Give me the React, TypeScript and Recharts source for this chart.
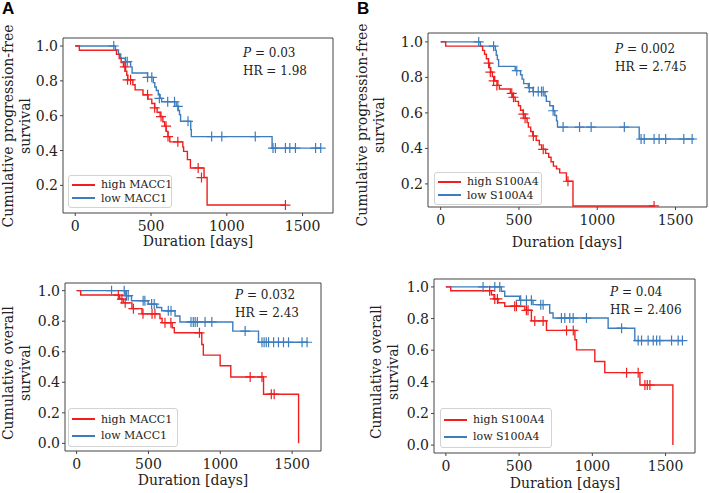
import React from "react";
import { ComposedChart, Line, Scatter, XAxis, YAxis, ReferenceArea } from "recharts";

type Pt = [number, number];

// shared axis setup (matplotlib auto margins)
const X_DOMAIN: [number, number] = [-81, 1701];
const X_TICKS = [0, 500, 1000, 1500];
const PFS_TICKS = [0.2, 0.4, 0.6, 0.8, 1.0];
const OS_TICKS = [0, 0.2, 0.4, 0.6, 0.8, 1.0];

// A: progression-free survival, MACC1
const pfsHighMacc: Pt[] = [[0, 1], [27, 0.976], [272, 0.952], [290, 0.928], [303, 0.905], [318, 0.88], [332, 0.856], [340, 0.832], [347, 0.806], [380, 0.778], [395, 0.748], [447, 0.72], [480, 0.695], [505, 0.67], [524, 0.645], [540, 0.62], [560, 0.595], [578, 0.565], [590, 0.54], [600, 0.51], [612, 0.48], [624, 0.45], [710, 0.42], [715, 0.395], [740, 0.348], [760, 0.3], [850, 0.245], [870, 0.087], [1387, 0.087]];
const pfsHighMaccCens: Pt[] = [[327, 0.88], [345, 0.806], [365, 0.806], [477, 0.72], [524, 0.645], [566, 0.595], [599, 0.54], [612, 0.48], [677, 0.45], [811, 0.3], [833, 0.245], [1387, 0.087]];
const pfsLowMacc: Pt[] = [[0, 1], [265, 0.977], [285, 0.954], [300, 0.93], [330, 0.91], [365, 0.88], [375, 0.845], [477, 0.82], [515, 0.79], [525, 0.765], [535, 0.745], [548, 0.72], [560, 0.7], [570, 0.68], [666, 0.654], [681, 0.63], [688, 0.606], [695, 0.568], [762, 0.52], [766, 0.48], [1299, 0.414], [1620, 0.414]];
const pfsLowMaccCens: Pt[] = [[254, 1], [332, 0.91], [343, 0.91], [477, 0.82], [505, 0.82], [555, 0.7], [610, 0.68], [655, 0.68], [677, 0.654], [744, 0.568], [900, 0.48], [967, 0.48], [1188, 0.48], [1305, 0.414], [1321, 0.414], [1387, 0.414], [1416, 0.414], [1453, 0.414], [1586, 0.414], [1620, 0.414]];

// B: progression-free survival, S100A4
const pfsHighS100: Pt[] = [[0, 1], [32, 0.976], [268, 0.952], [280, 0.93], [292, 0.905], [305, 0.88], [312, 0.855], [320, 0.83], [330, 0.805], [345, 0.78], [365, 0.755], [375, 0.735], [445, 0.71], [460, 0.688], [476, 0.665], [497, 0.64], [510, 0.615], [528, 0.593], [540, 0.57], [552, 0.545], [560, 0.52], [575, 0.495], [588, 0.47], [610, 0.445], [630, 0.42], [645, 0.395], [670, 0.372], [690, 0.35], [705, 0.325], [720, 0.3], [740, 0.285], [760, 0.262], [803, 0.215], [845, 0.076], [1363, 0.076]];
const pfsHighS100Cens: Pt[] = [[306, 0.88], [317, 0.83], [338, 0.78], [359, 0.755], [454, 0.71], [465, 0.688], [528, 0.593], [539, 0.57], [592, 0.47], [655, 0.395], [813, 0.215], [1363, 0.076]];
const pfsLowS100: Pt[] = [[0, 1], [254, 0.976], [349, 0.952], [355, 0.925], [362, 0.9], [370, 0.862], [476, 0.838], [510, 0.815], [520, 0.79], [530, 0.765], [560, 0.742], [590, 0.72], [666, 0.695], [675, 0.665], [697, 0.64], [720, 0.612], [729, 0.585], [740, 0.555], [746, 0.52], [1268, 0.453], [1620, 0.453]];
const pfsLowS100Cens: Pt[] = [[243, 1], [338, 0.976], [486, 0.838], [566, 0.742], [592, 0.72], [623, 0.72], [644, 0.72], [655, 0.72], [718, 0.612], [782, 0.52], [887, 0.52], [961, 0.52], [1173, 0.52], [1280, 0.453], [1300, 0.453], [1363, 0.453], [1395, 0.453], [1437, 0.453], [1553, 0.453], [1606, 0.453]];

// C: overall survival, MACC1
const osHighMacc: Pt[] = [[0, 1], [28, 0.971], [300, 0.945], [325, 0.92], [385, 0.882], [455, 0.848], [580, 0.818], [595, 0.79], [665, 0.757], [680, 0.724], [871, 0.647], [882, 0.578], [999, 0.508], [1073, 0.435], [1301, 0.322], [1545, 0]];
const osHighMaccCens: Pt[] = [[290, 0.971], [315, 0.945], [338, 0.92], [395, 0.882], [462, 0.848], [525, 0.848], [545, 0.848], [615, 0.79], [656, 0.79], [855, 0.724], [1208, 0.435], [1290, 0.435], [1355, 0.322], [1375, 0.322]];
const osLowMacc: Pt[] = [[0, 1], [338, 0.967], [382, 0.934], [498, 0.912], [557, 0.89], [592, 0.868], [685, 0.834], [719, 0.795], [1087, 0.735], [1266, 0.662], [1610, 0.662]];
const osLowMaccCens: Pt[] = [[243, 1], [331, 1], [347, 0.967], [359, 0.967], [463, 0.934], [475, 0.934], [522, 0.912], [540, 0.912], [638, 0.868], [657, 0.868], [796, 0.795], [812, 0.795], [825, 0.795], [840, 0.795], [894, 0.795], [941, 0.795], [1173, 0.735], [1290, 0.662], [1305, 0.662], [1320, 0.662], [1336, 0.662], [1371, 0.662], [1405, 0.662], [1440, 0.662], [1475, 0.662], [1569, 0.662], [1604, 0.662]];

// D: overall survival, S100A4
const osHighS100: Pt[] = [[0, 1], [33, 0.976], [311, 0.95], [329, 0.924], [356, 0.9], [402, 0.878], [539, 0.852], [584, 0.785], [687, 0.725], [881, 0.666], [892, 0.602], [1017, 0.528], [1085, 0.458], [1325, 0.38], [1550, 0]];
const osHighS100Cens: Pt[] = [[299, 0.976], [334, 0.924], [352, 0.924], [470, 0.878], [482, 0.878], [550, 0.852], [561, 0.852], [607, 0.785], [664, 0.785], [824, 0.725], [870, 0.725], [1234, 0.458], [1313, 0.458], [1359, 0.38], [1375, 0.38], [1393, 0.38]];
const osLowS100: Pt[] = [[0, 1], [379, 0.973], [402, 0.941], [504, 0.915], [595, 0.888], [709, 0.835], [732, 0.803], [1108, 0.739], [1290, 0.661], [1615, 0.661]];
const osLowS100Cens: Pt[] = [[254, 1], [334, 1], [368, 1], [511, 0.915], [550, 0.915], [584, 0.915], [648, 0.888], [664, 0.888], [789, 0.803], [812, 0.803], [846, 0.803], [869, 0.803], [960, 0.803], [1200, 0.739], [1313, 0.661], [1336, 0.661], [1381, 0.661], [1416, 0.661], [1439, 0.661], [1461, 0.661], [1541, 0.661], [1586, 0.661], [1615, 0.661]];

const RED = "#f01e1e";
const BLUE = "#3d7dbd";
const FRAME = "#444";
const SERIF = "'DejaVu Serif', serif";
const Y_AXIS_W = 44;
const X_AXIS_H = 30;

const rows = (pts: Pt[]) => pts.map(([t, s]) => ({ t, s }));

const cross = (color: string) => (props: any) => {
  const { cx, cy } = props;
  if (cx == null || cy == null) return <g />;
  return (
    <path
      d={`M${cx - 5},${cy}H${cx + 5}M${cx},${cy - 5}V${cy + 5}`}
      stroke={color}
      strokeWidth={1.2}
      fill="none"
    />
  );
};

interface Box { x: number; y: number; w: number; h: number }
interface Frame { l: number; t: number; r: number; b: number }

interface PanelProps {
  box: Box;
  frame: Frame;
  yDomain: [number, number];
  yTicks: number[];
  high: Pt[];
  highCens: Pt[];
  low: Pt[];
  lowCens: Pt[];
}

function KmPanel({ box, frame, yDomain, yTicks, high, highCens, low, lowCens }: PanelProps) {
  const margin = {
    left: frame.l - box.x - Y_AXIS_W,
    top: frame.t - box.y,
    right: box.x + box.w - frame.r,
    bottom: box.y + box.h - frame.b - X_AXIS_H,
  };
  const tick = { fill: "#222", fontSize: 14, fontFamily: SERIF };
  return (
    <div style={{ position: "absolute", left: box.x, top: box.y }}>
      <ComposedChart width={box.w} height={box.h} margin={margin}>
        <XAxis
          type="number"
          dataKey="t"
          domain={X_DOMAIN}
          allowDataOverflow
          ticks={X_TICKS}
          height={X_AXIS_H}
          tick={tick}
          tickSize={3}
          tickMargin={5}
          axisLine={false}
          tickLine={{ stroke: FRAME }}
        />
        <YAxis
          type="number"
          dataKey="s"
          domain={yDomain}
          allowDataOverflow
          ticks={yTicks}
          width={Y_AXIS_W}
          tick={tick}
          tickSize={3}
          tickMargin={2}
          axisLine={false}
          tickLine={{ stroke: FRAME }}
          tickFormatter={(v: number) => v.toFixed(1)}
        />
        <ReferenceArea
          x1={X_DOMAIN[0]}
          x2={X_DOMAIN[1]}
          y1={yDomain[0]}
          y2={yDomain[1]}
          fill="none"
          stroke={FRAME}
          strokeWidth={1}
        />
        <Line data={rows(low)} dataKey="s" type="stepAfter" stroke={BLUE} strokeWidth={1.4} dot={false} isAnimationActive={false} />
        <Line data={rows(high)} dataKey="s" type="stepAfter" stroke={RED} strokeWidth={1.4} dot={false} isAnimationActive={false} />
        <Scatter data={rows(lowCens)} dataKey="s" shape={cross(BLUE)} isAnimationActive={false} />
        <Scatter data={rows(highCens)} dataKey="s" shape={cross(RED)} isAnimationActive={false} />
      </ComposedChart>
    </div>
  );
}

function YLabel({ x, y, lines }: { x: number; y: number; lines: string[] }) {
  return (
    <div
      style={{
        position: "absolute",
        left: x,
        top: y,
        transform: "translate(-50%, -50%) rotate(-90deg)",
        whiteSpace: "nowrap",
        textAlign: "center",
        fontFamily: SERIF,
        fontSize: 14,
        lineHeight: "17px",
        color: "#222",
      }}
    >
      {lines.map((l) => (
        <div key={l}>{l}</div>
      ))}
    </div>
  );
}

function XLabel({ x, y }: { x: number; y: number }) {
  return (
    <div
      style={{
        position: "absolute",
        left: x,
        top: y,
        transform: "translate(-50%, -50%)",
        whiteSpace: "nowrap",
        fontFamily: SERIF,
        fontSize: 14,
        color: "#222",
      }}
    >
      Duration [days]
    </div>
  );
}

function Stats({ x, y, p, hr }: { x: number; y: number; p: string; hr: string }) {
  const line: React.CSSProperties = { height: 18, lineHeight: "18px" };
  return (
    <div style={{ position: "absolute", left: x, top: y - 9, fontFamily: SERIF, fontSize: 12, color: "#222", whiteSpace: "nowrap" }}>
      <div style={line}>
        <i>P</i> = {p}
      </div>
      <div style={line}>HR = {hr}</div>
    </div>
  );
}

function KmLegend({ x, y, w, h, labels }: { x: number; y: number; w: number; h: number; labels: [string, string] }) {
  const row: React.CSSProperties = { display: "flex", alignItems: "center", height: (h - 6) / 2 };
  const swatch = (c: string) => (
    <div style={{ flex: "0 0 23px", height: 2, background: c, marginRight: 6 }} />
  );
  return (
    <div
      style={{
        position: "absolute",
        left: x,
        top: y,
        width: w,
        height: h,
        boxSizing: "border-box",
        border: "1px solid #d3d3d3",
        borderRadius: 3,
        background: "rgba(255,255,255,0.85)",
        padding: "2px 3px",
        fontFamily: SERIF,
        fontSize: 11,
        color: "#222",
        whiteSpace: "nowrap",
      }}
    >
      <div style={row}>
        {swatch(RED)}
        <span>{labels[0]}</span>
      </div>
      <div style={row}>
        {swatch(BLUE)}
        <span>{labels[1]}</span>
      </div>
    </div>
  );
}

const letter: React.CSSProperties = {
  position: "absolute",
  fontFamily: "'Liberation Sans', Arial, sans-serif",
  fontWeight: "bold",
  fontSize: 17,
  lineHeight: "17px",
  color: "#000",
};

export default function App() {
  return (
    <div style={{ position: "absolute", left: 0, top: 0, width: 709, height: 493, background: "#fff", overflow: "hidden" }}>
      <div style={{ ...letter, left: 2, top: 0 }}>A</div>
      <div style={{ ...letter, left: 357, top: 0 }}>B</div>

      <KmPanel
        box={{ x: 0, y: 0, w: 354, h: 250 }}
        frame={{ l: 63, t: 38, r: 333, b: 213 }}
        yDomain={[0.0415, 1.046]}
        yTicks={PFS_TICKS}
        high={pfsHighMacc}
        highCens={pfsHighMaccCens}
        low={pfsLowMacc}
        lowCens={pfsLowMaccCens}
      />
      <YLabel x={17} y={126} lines={["Cumulative progression-free", "survival"]} />
      <XLabel x={198} y={241} />
      <Stats x={243} y={53} p="0.03" hr="1.98" />
      <KmLegend x={68} y={175} w={104} h={33} labels={["high MACC1", "low MACC1"]} />

      <KmPanel
        box={{ x: 354, y: 0, w: 355, h: 250 }}
        frame={{ l: 428, t: 33, r: 707, b: 207 }}
        yDomain={[0.07, 1.05]}
        yTicks={PFS_TICKS}
        high={pfsHighS100}
        highCens={pfsHighS100Cens}
        low={pfsLowS100}
        lowCens={pfsLowS100Cens}
      />
      <YLabel x={371} y={125} lines={["Cumulative progression-free", "survival"]} />
      <XLabel x={567} y={242} />
      <Stats x={615} y={49} p="0.002" hr="2.745" />
      <KmLegend x={434} y={172} w={108} h={33} labels={["high S100A4", "low S100A4"]} />

      <KmPanel
        box={{ x: 0, y: 250, w: 354, h: 243 }}
        frame={{ l: 65, t: 283, r: 321, b: 451 }}
        yDomain={[-0.05, 1.05]}
        yTicks={OS_TICKS}
        high={osHighMacc}
        highCens={osHighMaccCens}
        low={osLowMacc}
        lowCens={osLowMaccCens}
      />
      <YLabel x={17} y={373} lines={["Cumulative overall", "survival"]} />
      <XLabel x={193} y={480} />
      <Stats x={235} y={295} p="0.032" hr="2.43" />
      <KmLegend x={68} y={408} w={110} h={39} labels={["high MACC1", "low MACC1"]} />

      <KmPanel
        box={{ x: 354, y: 250, w: 355, h: 243 }}
        frame={{ l: 434, t: 279, r: 695, b: 453 }}
        yDomain={[-0.05, 1.05]}
        yTicks={OS_TICKS}
        high={osHighS100}
        highCens={osHighS100Cens}
        low={osLowS100}
        lowCens={osLowS100Cens}
      />
      <YLabel x={385} y={372} lines={["Cumulative overall", "survival"]} />
      <XLabel x={565} y={483} />
      <Stats x={610} y={292} p="0.04" hr="2.406" />
      <KmLegend x={440} y={408} w={112} h={40} labels={["high S100A4", "low S100A4"]} />
    </div>
  );
}
